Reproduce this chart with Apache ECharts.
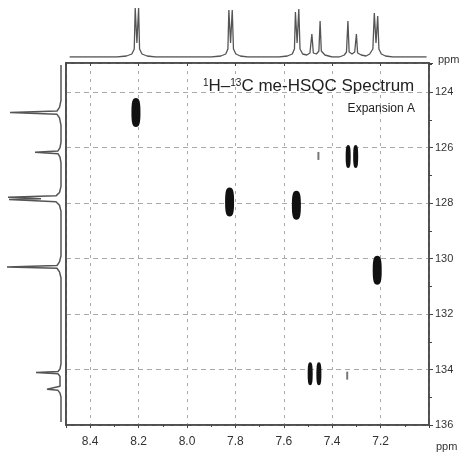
<!DOCTYPE html>
<html>
<head>
<meta charset="utf-8">
<script src="https://cdn.jsdelivr.net/npm/echarts@6/dist/echarts.min.js"></script>
<style>
html, body { margin: 0; padding: 0; background: #fff; }
#hsqc-chart { width: 465px; height: 455px; }
</style>
</head>
<body>
<div id="hsqc-chart"></div>
<script>
var myChart = echarts.init(document.getElementById('hsqc-chart'));

var fontFamily = '"Liberation Sans", Arial, sans-serif';
var lineColor = '#444';
var gridColor = '#aaa';

// 1H axis (ppm, reversed) and 13C axis (ppm, reversed)
var hRange = [7.0, 8.5];
var cRange = [122.95, 136];

// 1H projection on top: [ppm, intensity]
var hTrace = [
	[8.485, 0], [8.29, 0], [8.25, 1], [8.228, 3], [8.218, 8], [8.214, 49], [8.207, 14], [8.200, 49], [8.196, 8], [8.186, 3], [8.165, 1], [8.13, 0],
	[7.90, 0], [7.86, 1], [7.84, 3], [7.831, 8], [7.827, 47], [7.820, 14], [7.813, 47], [7.808, 8], [7.798, 3], [7.78, 1], [7.75, 0],
	[7.62, 0], [7.585, 1], [7.565, 3], [7.556, 8], [7.552, 45], [7.545, 14], [7.538, 48], [7.533, 8], [7.522, 3], [7.505, 2],
	[7.492, 4], [7.484, 23], [7.478, 4], [7.465, 3], [7.455, 6], [7.450, 36], [7.445, 6], [7.43, 2], [7.40, 0],
	[7.37, 0], [7.35, 2], [7.341, 5], [7.335, 36], [7.330, 5], [7.318, 3], [7.307, 5], [7.300, 23], [7.295, 4], [7.28, 2],
	[7.26, 1], [7.245, 3], [7.232, 8], [7.226, 44], [7.219, 14], [7.212, 41], [7.207, 8], [7.197, 3], [7.18, 1], [7.15, 0], [7.01, 0]
];

// 13C projection on the left: [intensity, ppm]
var cTrace = [
	[0, 123.02], [0, 124.3], [1.5, 124.55], [4, 124.68], [51, 124.73], [51, 124.75], [4, 124.8], [1.5, 124.93], [0, 125.2],
	[0, 125.8], [1, 126.0], [3, 126.12], [26, 126.17], [3, 126.22], [1, 126.34], [0, 126.55],
	[0, 127.4], [1.5, 127.62], [5, 127.74], [53, 127.79], [20, 127.84], [52, 127.87], [5, 127.95], [1.5, 128.08], [0, 128.3],
	[0, 129.9], [1.5, 130.12], [4, 130.25], [54, 130.3], [4, 130.35], [1.5, 130.48], [0, 130.7],
	[0, 133.8], [1, 133.98], [3, 134.07], [25, 134.11], [3, 134.15], [1, 134.25],
	[1, 134.6], [3, 134.67], [14, 134.71], [3, 134.75], [1, 134.85], [0, 135.0], [0, 135.89]
];

// cross peaks: [1H ppm, 13C ppm]
var strongPeaks = [[8.211, 124.73], [7.824, 127.96], [7.548, 128.08], [7.214, 130.42]];
var splitPeaks = [[7.334, 126.32], [7.303, 126.32], [7.491, 134.15], [7.455, 134.15]];
var weakPeaks = [[7.457, 126.3], [7.338, 134.22]];

var blob = 'path://M5,0 C9,0 10,4 10,15 C10,26 9,30 5,30 C1,30 0,26 0,15 C0,4 1,0 5,0 Z';

function hLabel(v) {
	if (v < 7.1 || v > 8.45) return '';
	return v.toFixed(1);
}

function cLabel(v) {
	if (Math.abs(v - Math.round(v)) > 0.001 || Math.round(v) % 2 !== 0) return '';
	return String(Math.round(v));
}

var option = {
	animation: false,
	backgroundColor: '#fff',
	textStyle: { fontFamily: fontFamily },
	title: [{
		text: '{sup|1}H–{sup|13}C me-HSQC Spectrum',
		left: 203,
		top: 78,
		padding: 0,
		textStyle: {
			fontSize: 17,
			fontWeight: 'normal',
			color: '#222',
			fontFamily: fontFamily,
			rich: {
				sup: { fontSize: 10, verticalAlign: 'top', color: '#222', fontFamily: fontFamily }
			}
		}
	}, {
		text: 'Expansion A',
		right: 50,
		top: 103,
		padding: 0,
		textStyle: { fontSize: 12, fontWeight: 'normal', color: '#222', fontFamily: fontFamily }
	}],
	graphic: [{
		type: 'text', left: 438, top: 54,
		style: { text: 'ppm', fontSize: 11, fill: '#333', fontFamily: fontFamily }
	}, {
		type: 'text', left: 436, top: 441,
		style: { text: 'ppm', fontSize: 11, fill: '#333', fontFamily: fontFamily }
	}],
	grid: [
		{ left: 66, right: 36, top: 63, bottom: 30, outerBoundsMode: 'none', show: true, borderColor: lineColor, borderWidth: 1.5 },
		{ left: 66, right: 36, top: 2, height: 55, outerBoundsMode: 'none' },
		{ left: 0, width: 61, top: 63, bottom: 30, outerBoundsMode: 'none' }
	],
	xAxis: [{
		gridIndex: 0, type: 'value', inverse: true,
		min: hRange[0], max: hRange[1], interval: 0.2,
		position: 'bottom',
		axisLine: { show: true, lineStyle: { color: lineColor, width: 1.5 } },
		axisTick: { show: true, length: 3, lineStyle: { color: lineColor } },
		minorTick: { show: true, splitNumber: 2, length: 2, lineStyle: { color: lineColor } },
		axisLabel: { formatter: hLabel, fontSize: 12, color: '#333', margin: 11, fontFamily: fontFamily },
		splitLine: { show: true, lineStyle: { color: gridColor, type: [3, 5], width: 1 } }
	}, {
		gridIndex: 0, type: 'value', inverse: true,
		min: hRange[0], max: hRange[1], interval: 0.2,
		position: 'top',
		axisLine: { show: true, lineStyle: { color: lineColor, width: 1.5 } },
		axisTick: { show: true, inside: true, length: 3, lineStyle: { color: lineColor } },
		axisLabel: { show: false },
		splitLine: { show: false }
	}, {
		gridIndex: 1, type: 'value', inverse: true,
		min: hRange[0], max: hRange[1], show: false
	}, {
		gridIndex: 2, type: 'value', inverse: true,
		min: 0, max: 61, show: false
	}],
	yAxis: [{
		gridIndex: 0, type: 'value', inverse: true,
		min: cRange[0], max: cRange[1], splitNumber: 7,
		position: 'right',
		axisLine: { show: true, lineStyle: { color: lineColor, width: 1.5 } },
		axisTick: { show: true, length: 4, lineStyle: { color: lineColor } },
		minorTick: { show: true, splitNumber: 2, length: 3, lineStyle: { color: lineColor } },
		axisLabel: { formatter: cLabel, fontSize: 11, color: '#333', margin: 6, fontFamily: fontFamily },
		splitLine: { show: true, lineStyle: { color: gridColor, type: [5, 4], width: 1 } }
	}, {
		gridIndex: 0, type: 'value', inverse: true,
		min: cRange[0], max: cRange[1], splitNumber: 7,
		position: 'left',
		axisLine: { show: true, lineStyle: { color: lineColor, width: 1.5 } },
		axisTick: { show: false },
		axisLabel: { show: false },
		splitLine: { show: false }
	}, {
		gridIndex: 1, type: 'value', min: 0, max: 55, show: false
	}, {
		gridIndex: 2, type: 'value', inverse: true,
		min: cRange[0], max: cRange[1], show: false
	}],
	series: [{
		name: '1H',
		type: 'line',
		xAxisIndex: 2, yAxisIndex: 2,
		data: hTrace,
		showSymbol: false,
		lineStyle: { color: '#555', width: 1.3 }
	}, {
		name: '13C',
		type: 'line',
		xAxisIndex: 3, yAxisIndex: 3,
		data: cTrace,
		showSymbol: false,
		lineStyle: { color: '#555', width: 1.5 }
	}, {
		name: 'strong',
		type: 'scatter',
		xAxisIndex: 0, yAxisIndex: 0,
		data: strongPeaks,
		symbol: blob,
		symbolSize: [9, 29],
		itemStyle: { color: '#111', opacity: 1 }
	}, {
		name: 'split',
		type: 'scatter',
		xAxisIndex: 0, yAxisIndex: 0,
		data: splitPeaks,
		symbol: blob,
		symbolSize: [5, 23],
		itemStyle: { color: '#111', opacity: 1 }
	}, {
		name: 'weak',
		type: 'scatter',
		xAxisIndex: 0, yAxisIndex: 0,
		data: weakPeaks,
		symbol: 'rect',
		symbolSize: [2, 8],
		itemStyle: { color: '#777', opacity: 1 }
	}]
};

myChart.setOption(option);
</script>
</body>
</html>
